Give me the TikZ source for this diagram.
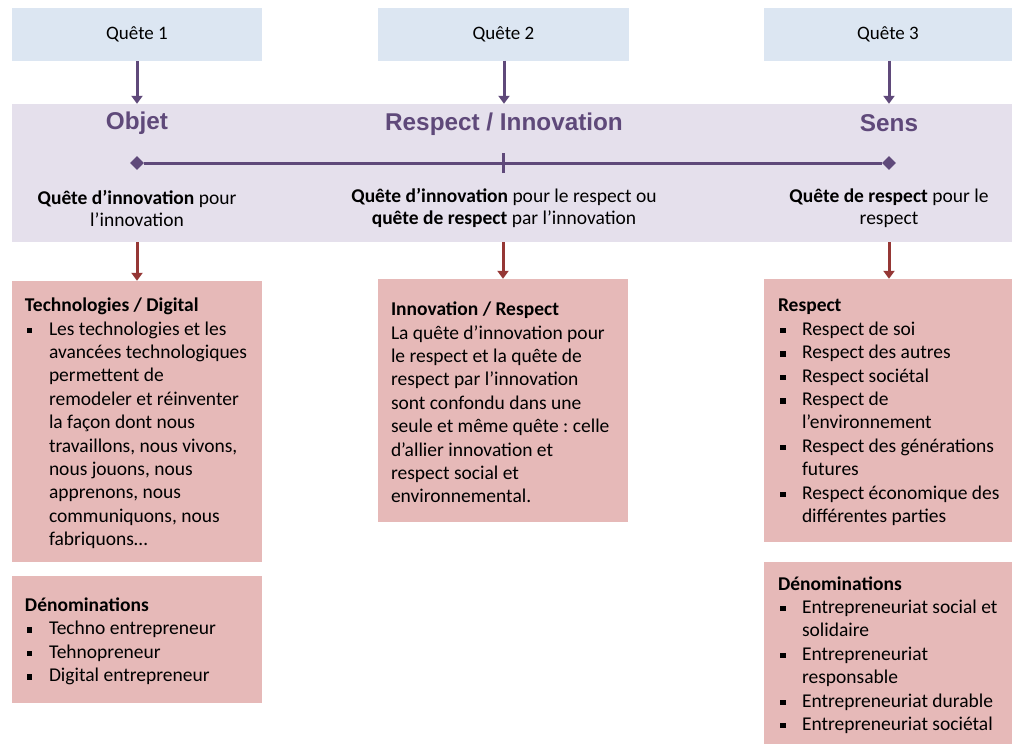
\documentclass[tikz,border=0pt]{standalone}
\usepackage{fontspec}
\setmainfont{Carlito}
\newfontfamily\titrefont{Liberation Sans}
\usetikzlibrary{arrows.meta,shapes.geometric}
\definecolor{bleuquete}{HTML}{DCE6F2}
\definecolor{lavande}{HTML}{E5E0EC}
\definecolor{rosebox}{HTML}{E6B9B8}
\definecolor{violet}{HTML}{5F497A}
\definecolor{rougefleche}{HTML}{953735}
\frenchspacing
\newcommand\puce[1]{\par\leavevmode\hangindent=24pt\hangafter=1\hspace*{2pt}\makebox[22pt][l]{\rule[0.22ex]{5.5pt}{5.5pt}}#1}
\newcommand\contenu[3][13pt]{\begin{minipage}{#2}\vspace*{4pt}\leftskip=#1\rightskip=0pt plus 1fil
  \parindent=0pt\parfillskip=0pt plus 1fil\let\\\newline #3\end{minipage}}
\tikzset{
    quete/.style={rectangle, fill=bleuquete, minimum width=250pt, minimum height=53pt,
      font=\fontsize{19}{23}\selectfont},
    titre/.style={text=violet, font=\titrefont\bfseries\fontsize{24.3}{28}\selectfont},
    desc/.style={align=center, font=\fontsize{19.5}{22}\selectfont},
    cadre/.style={rectangle, fill=rosebox, minimum width=250pt, inner xsep=0pt,
      font=\fontsize{19.5}{23.4}\selectfont},
    fleche/.style={-{Triangle[length=8pt,width=11pt]}, line width=3pt},
}
\begin{document}
\begin{tikzpicture}[x=1pt,y=-1pt]
\useasboundingbox (0,0) rectangle (1012,744);

\node[quete] (q1) at (137,34.5) {Quête 1};
\node[quete, minimum width=251pt] (q2) at (503.5,34) {Quête 2};
\node[quete, minimum width=248pt] (q3) at (888,34) {Quête 3};

\node[rectangle, fill=lavande, minimum width=1000pt, minimum height=138pt] (band) at (512,173) {};

\node[titre] (objet) at (137,123) {Objet};
\node[titre] (respinno) at (504,124) {Respect / Innovation};
\node[titre] (sens) at (889,123) {Sens};

\node[diamond, fill=violet, minimum size=14pt, inner sep=0pt] (d1) at (137,163) {};
\node[diamond, fill=violet, minimum size=14pt, inner sep=0pt] (d3) at (889,163) {};
\coordinate (milieu) at (503,163);
\draw[violet, line width=3pt] (d1) -- (d3);
\draw[violet, line width=3pt] ([yshift=-10pt]milieu) -- ([yshift=10pt]milieu);

\node[desc] (t1) at (137,208) {\textbf{Quête d’innovation} pour\\l’innovation};
\node[desc] (t2) at (504,208) {\textbf{Quête d’innovation} pour le respect ou\\\textbf{quête de respect} par l’innovation};
\node[desc] (t3) at (889,208) {\textbf{Quête de respect} pour le\\respect};

\node[cadre, minimum height=281pt] (tech) at (137,421.5) {\contenu{250pt}{\textbf{Technologies / Digital}
\puce{Les technologies et les\\avancées technologiques\\permettent de\\remodeler et réinventer\\la façon dont nous\\travaillons, nous vivons,\\nous jouons, nous\\apprenons, nous\\communiquons, nous\\fabriquons…}}};
\node[cadre, minimum height=127pt] (denom1) at (137,639.5) {\contenu{250pt}{\textbf{Dénominations}
\puce{Techno entrepreneur}
\puce{Tehnopreneur}
\puce{Digital entrepreneur}}};

\node[cadre, minimum height=243pt] (innov) at (503,400.5) {\contenu{250pt}{\textbf{Innovation / Respect}\\
La quête d’innovation pour\\le respect et la quête de\\respect par l’innovation\\sont confondu dans une\\seule et même quête : celle\\d’allier innovation et\\respect social et\\environnemental.}};

\node[cadre, minimum width=248pt, minimum height=263pt] (resp) at (888,410.5) {\contenu[14pt]{248pt}{\textbf{Respect}
\puce{Respect de soi}
\puce{Respect des autres}
\puce{Respect sociétal}
\puce{Respect de\\l’environnement}
\puce{Respect des générations\\futures}
\puce{Respect économique des\\différentes parties}}};
\node[cadre, minimum width=248pt, minimum height=182pt] (denom3) at (888,653) {\contenu[14pt]{248pt}{\textbf{Dénominations}
\puce{Entrepreneuriat social et\\solidaire}
\puce{Entrepreneuriat\\responsable}
\puce{Entrepreneuriat durable}
\puce{Entrepreneuriat sociétal}}};

\draw[fleche, violet] (q1) -- (q1 |- band.north);
\draw[fleche, violet] (q2.south -| respinno) -- (respinno |- band.north);
\draw[fleche, violet] (q3.south -| sens) -- (sens |- band.north);
\draw[fleche, rougefleche] (tech |- band.south) -- (tech.north);
\draw[fleche, rougefleche] (innov |- band.south) -- (innov.north);
\draw[fleche, rougefleche] (sens |- band.south) -- (sens |- resp.north);
\end{tikzpicture}
\end{document}
